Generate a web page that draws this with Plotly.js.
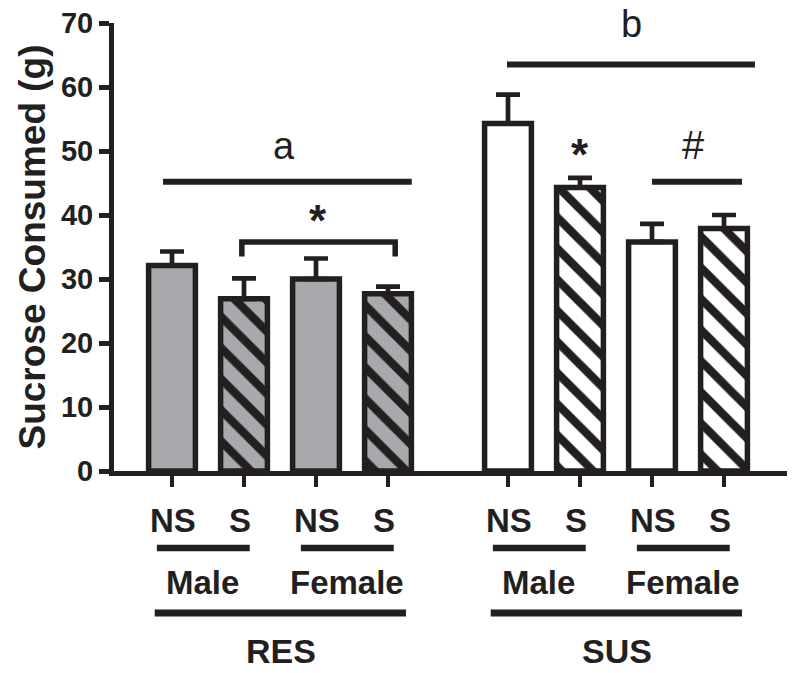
<!DOCTYPE html>
<html><head><meta charset="utf-8">
<script src="https://cdn.plot.ly/plotly-3.0.1.min.js"></script>
<style>html,body{margin:0;padding:0;background:#fff}#chart{width:796px;height:673px}</style>
</head><body><div id="chart"></div>
<script>
// ---- data ----
const groups = ['RES', 'SUS'];
const sexes = ['Male', 'Female'];
const conditions = ['NS', 'S'];
const means = [32.1, 26.9, 30.0, 27.7, 54.3, 44.3, 35.8, 37.9];
const sems = [2.2, 3.2, 3.2, 1.1, 4.5, 1.5, 2.8, 2.1];
const groupLetters = ['a', 'b'];
const comparisonMarks = ['*', '*', '#'];

// ---- style / layout constants ----
const INK = '#231f20';
const GROUP_FILL = ['#a7a9ac', '#ffffff'];
const COND_PATTERN = ['', '\\'];
const GROUP_GAP = 2 / 3;
const BOLD = 'Liberation Sans, Arial, sans-serif';
const M = {l: 114, r: 9, t: 23, b: 202};
const H = 673, plotH = H - M.t - M.b;
const py = p => (H - M.b - p) / plotH; // pixel row -> paper y

// bar positions built from the category structure
const xs = [], condLabels = [];
groups.forEach((g, gi) => sexes.forEach((s, si) => conditions.forEach((c, ci) => {
  xs.push(gi * 4 + si * 2 + ci + gi * GROUP_GAP);
  condLabels.push(c);
})));

// one trace per group x condition so fill and hatch stay scalar
const traces = [];
groups.forEach((g, gi) => conditions.forEach((c, ci) => {
  const idx = [0, 1].map(si => gi * 4 + si * 2 + ci);
  const pattern = COND_PATTERN[ci]
    ? {shape: COND_PATTERN[ci], fgcolor: INK, bgcolor: GROUP_FILL[gi], fgopacity: 1,
       size: 22, solidity: 0.38, fillmode: 'overlay'}
    : {shape: ''};
  traces.push({
    type: 'bar', name: g + ' ' + c,
    x: idx.map(i => xs[i]), y: idx.map(i => means[i]), width: 0.65,
    marker: {color: GROUP_FILL[gi], line: {color: INK, width: 5.5}, pattern: pattern},
    error_y: {type: 'data', symmetric: false, array: idx.map(i => sems[i]),
              arrayminus: idx.map(() => 0), color: INK, thickness: 4.7, width: 12},
    hoverinfo: 'skip', showlegend: false
  });
}));

const lineShape = (x0, x1, y, yref, w) => ({type: 'line', xref: 'x', yref: yref || 'y',
  x0: x0, x1: x1, y0: y, y1: y, line: {color: INK, width: w || 6}});

const shapesL = [];
const ann = [];
const textAnn = (x, y, text, font, yref) => ({x: x, y: y, xref: 'x', yref: yref || 'y', text: text,
  showarrow: false, xanchor: 'center', yanchor: 'middle', font: font});
const boldFont = sz => ({family: BOLD, size: sz, color: INK, weight: 'bold'});
const plainFont = sz => ({family: BOLD, size: sz, color: INK});

// significance: group letters
shapesL.push(lineShape(xs[0] - 0.125, xs[3] + 0.33, 45.2));
ann.push(textAnn((xs[1] + xs[2]) / 2 + 0.06, 50.8, groupLetters[0], plainFont(38)));
shapesL.push(lineShape(xs[4] - 0.014, xs[7] + 0.43, 63.5));
ann.push(textAnn((xs[5] + xs[6]) / 2 + 0.22, 69.8, groupLetters[1], plainFont(38)));
// RES stress bracket
shapesL.push({type: 'path', xref: 'x', yref: 'y',
  path: `M${xs[1] - 0.03},33.5 L${xs[1] - 0.03},35.8 L${xs[3] + 0.1},35.8 L${xs[3] + 0.1},33.5`,
  line: {color: INK, width: 5.5}});
ann.push(textAnn((xs[1] + xs[3]) / 2 + 0.03, 39.2, comparisonMarks[0], boldFont(44)));
// SUS male star
ann.push(textAnn(xs[5], 49.5, comparisonMarks[1], boldFont(44)));
// SUS female #
shapesL.push(lineShape(xs[6], xs[7] + 0.25, 45.2));
ann.push(textAnn((xs[6] + xs[7]) / 2 + 0.07, 50.9, comparisonMarks[2], plainFont(40)));

// category labels below the axis
xs.forEach((x, i) => ann.push(textAnn(x + (i % 2 ? -0.06 : 0.02), py(520), condLabels[i], boldFont(33), 'paper')));
groups.forEach((g, gi) => {
  sexes.forEach((s, si) => {
    const a = xs[gi * 4 + si * 2], b = xs[gi * 4 + si * 2 + 1];
    shapesL.push(lineShape(a - 0.21, b + 0.08, py(548), 'paper', 6.5));
    ann.push(textAnn((a + b) / 2 - 0.07, py(582), s, boldFont(33), 'paper'));
  });
  const a = xs[gi * 4], b = xs[gi * 4 + 3];
  shapesL.push(lineShape(a - 0.24, b + 0.25, py(613), 'paper', 7));
  ann.push(textAnn((a + b) / 2 + 0.02, py(651), g, boldFont(34), 'paper'));
});

const pxPerUnit = 72;
const layout = {
  width: 796, height: 673, margin: M,
  paper_bgcolor: '#fff', plot_bgcolor: '#fff',
  xaxis: {range: [xs[0] - (172 - M.l) / pxPerUnit, xs[7] + (787 - 724) / pxPerUnit],
          showgrid: false, zeroline: false, showline: true, linewidth: 5, linecolor: INK,
          ticks: 'outside', ticklen: 11, tickwidth: 4.5, tickcolor: INK,
          tickvals: xs, showticklabels: false, fixedrange: true},
  yaxis: {range: [0, 70], tick0: 0, dtick: 10, showgrid: false, zeroline: false,
          showline: true, linewidth: 5, linecolor: INK,
          ticks: 'outside', ticklen: 10, tickwidth: 5, tickcolor: INK,
          tickfont: boldFont(29),
          title: {text: 'Sucrose Consumed (g)', font: boldFont(37), standoff: 5},
          fixedrange: true},
  shapes: shapesL, annotations: ann, barmode: 'overlay', bargap: 0, showlegend: false
};
Plotly.newPlot('chart', traces, layout, {displayModeBar: false, staticPlot: true});
</script></body></html>
